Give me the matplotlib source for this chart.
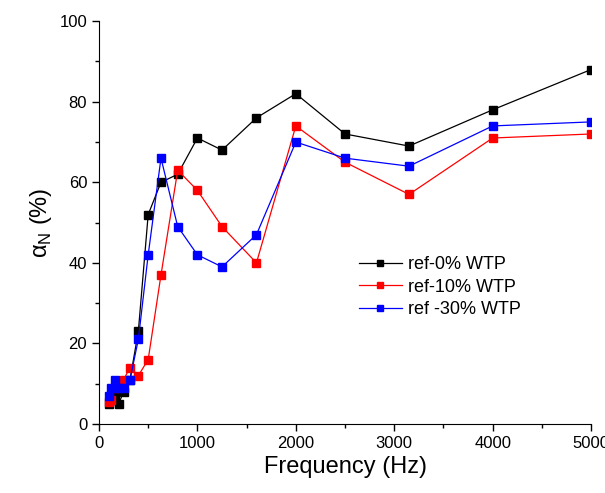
import matplotlib
matplotlib.use('Agg')
import matplotlib.pyplot as plt
from matplotlib.ticker import MultipleLocator

plt.rcParams['font.family'] = ['Liberation Sans', 'DejaVu Sans']
plt.rcParams['mathtext.fontset'] = 'custom'
plt.rcParams['mathtext.rm'] = 'Liberation Sans'

freq = [100, 125, 160, 200, 250, 315, 400, 500, 630, 800, 1000, 1250, 1600, 2000, 2500, 3150, 4000, 5000]
ref_0 = [5, 6, 7, 5, 8, 11, 23, 52, 60, 62, 71, 68, 76, 82, 72, 69, 78, 88]
ref_10 = [5.5, 6, 9, 10, 11, 14, 12, 16, 37, 63, 58, 49, 40, 74, 65, 57, 71, 72]
ref_30 = [7, 9, 11, 9, 9, 11, 21, 42, 66, 49, 42, 39, 47, 70, 66, 64, 74, 75]

fig = plt.figure(figsize=(6.05, 4.93), dpi=100)
ax = fig.add_axes([0.1636, 0.14, 0.8134, 0.817])

ax.plot(freq, ref_0, color='black', marker='s', ms=5.5, lw=0.9, label='ref-0% WTP')
ax.plot(freq, ref_10, color='red', marker='s', ms=5.5, lw=0.9, label='ref-10% WTP')
ax.plot(freq, ref_30, color='blue', marker='s', ms=5.5, lw=0.9, label='ref -30% WTP')

ax.set_xlim(0, 5000)
ax.set_ylim(0, 100)
ax.xaxis.set_major_locator(MultipleLocator(1000))
ax.xaxis.set_minor_locator(MultipleLocator(500))
ax.yaxis.set_major_locator(MultipleLocator(20))
ax.yaxis.set_minor_locator(MultipleLocator(10))
ax.tick_params(which='major', direction='out', length=5, width=1, labelsize=12)
ax.tick_params(which='minor', direction='out', length=3, width=1)
ax.spines['top'].set_visible(False)
ax.spines['right'].set_visible(False)

ax.set_xlabel('Frequency (Hz)', fontsize=17)
ax.set_ylabel('α$_\\mathrm{N}$ (%)', fontsize=17)

ax.legend(loc='center left', bbox_to_anchor=(0.495, 0.34), frameon=False, fontsize=13,
          handlelength=2.4, handletextpad=0.3, labelspacing=0.3, markerscale=0.9)

fig.savefig('out.png', dpi=100)
